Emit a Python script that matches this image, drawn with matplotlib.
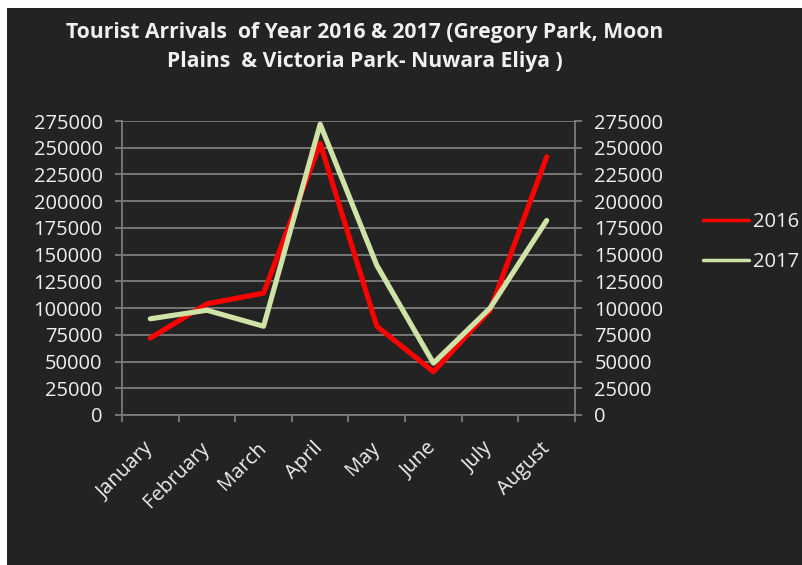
import matplotlib
matplotlib.use("Agg")
import matplotlib.pyplot as plt
import numpy as np

plt.rcParams['font.family'] = ['Open Sans', 'DejaVu Sans']

months = ['January', 'February', 'March', 'April', 'May', 'June', 'July', 'August']
arrivals_2016 = [72000, 104000, 114000, 254000, 83000, 40500, 98000, 241500]
arrivals_2017 = [90000, 98000, 83000, 272000, 140000, 48500, 100000, 182000]
yticks = np.arange(0, 275001, 25000)

bg = '#232323'
grid_col = '#7c7c7c'
txt_col = '#f0f0f0'

fig = plt.figure(figsize=(8.02, 5.65), dpi=100, facecolor='white')
# dark chart panel (white margin on top and left like the screenshot)
fig.patches.append(plt.Rectangle((7/802, 0), 1, 1 - 8/565, transform=fig.transFigure,
                                 facecolor=bg, edgecolor='none', zorder=-10))

ax = fig.add_axes([122/802, 150/565, 453/802, 294/565])
ax.set_facecolor(bg)

x = np.arange(len(months))
ax.plot(x, arrivals_2016, color='#ff0000', lw=3.7, solid_capstyle='round', label='2016', zorder=3)
ax.plot(x, arrivals_2017, color='#cfe3a6', lw=3.7, solid_capstyle='round', label='2017', zorder=4)

ax.set_xlim(-0.5, len(months) - 0.5)
ax.set_ylim(0, 275000)
ax.set_yticks(yticks)
ax.set_yticklabels([str(v) for v in yticks])
ax.yaxis.grid(True, color=grid_col, lw=1.3)
ax.set_axisbelow(True)
ax.tick_params(axis='y', which='major', left=True, right=True, labelleft=True, labelright=True,
               direction='out', length=5, width=1.3, color=grid_col, labelcolor=txt_col,
               labelsize=14.5, pad=9)

# boundary ticks on x, labels at category centres
ax.set_xticks(np.arange(len(months) + 1) - 0.5)
ax.set_xticklabels([])
ax.tick_params(axis='x', which='major', direction='out', length=5, width=1.3, color=grid_col)
ax.set_xticks(x, minor=True)
ax.set_xticklabels(months, minor=True, rotation=45, ha='right', va='center',
                   rotation_mode='anchor', color=txt_col, fontsize=14.5)
ax.tick_params(axis='x', which='minor', length=0, pad=22)

for side in ['left', 'right', 'bottom']:
    ax.spines[side].set_color(grid_col)
    ax.spines[side].set_linewidth(1.3)
ax.spines['top'].set_visible(False)

fig.text(365/802, 1 - 47/565,
         'Tourist Arrivals  of Year 2016 & 2017 (Gregory Park, Moon\nPlains  & Victoria Park- Nuwara Eliya )',
         ha='center', va='center', fontsize=15.2, fontweight='bold', color=txt_col, linespacing=1.5)

leg = fig.legend(loc='center left', bbox_to_anchor=(703/802, 1 - 242/565), frameon=False,
                 fontsize=14.5, handlelength=2.3, handletextpad=0.2, labelspacing=1.0,
                 borderpad=0, borderaxespad=0)
for t in leg.get_texts():
    t.set_color(txt_col)
for h in leg.legend_handles:
    h.set_linewidth(2.5)

fig.savefig('out.png', dpi=100, facecolor='white')
